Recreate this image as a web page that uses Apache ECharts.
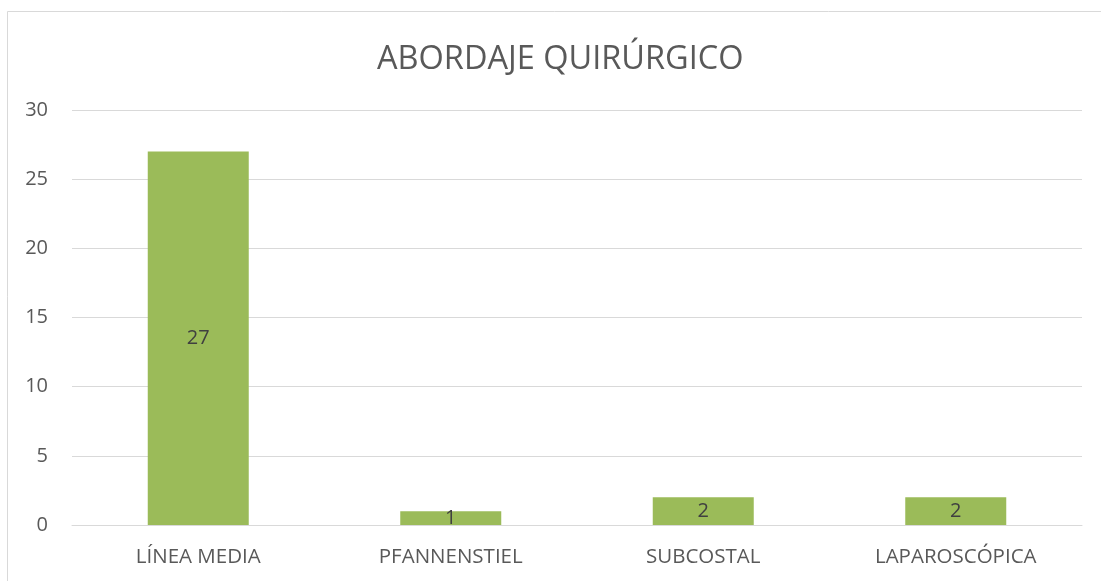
<!DOCTYPE html>
<html>
<head>
<meta charset="utf-8">
<script src="https://cdn.jsdelivr.net/npm/echarts@6/dist/echarts.min.js"></script>
<style>
  html, body { margin: 0; padding: 0; background: #fff; }
  #chart { width: 1101px; height: 581px; }
</style>
</head>
<body>
<div id="chart"></div>
<script>
const categories = ['LÍNEA MEDIA', 'PFANNENSTIEL', 'SUBCOSTAL', 'LAPAROSCÓPICA']
const values = [27, 1, 2, 2]
const yTicks = { min: 0, max: 30, interval: 5 }

const font = '"Open Sans", "Noto Sans", sans-serif'
const chart = echarts.init(document.getElementById('chart'))
chart.setOption({
  animation: false,
  backgroundColor: '#fff',
  graphic: [{
    type: 'rect',
    shape: { x: 7.5, y: 11.5, width: 1200, height: 700 },
    style: { fill: 'none', stroke: '#d9d9d9', lineWidth: 1 },
    silent: true
  }],
  title: {
    text: 'ABORDAJE QUIRÚRGICO',
    left: 372,
    top: 38,
    textStyle: { fontFamily: font, fontSize: 32.5, fontWeight: 'normal', color: '#595959' }
  },
  grid: { left: 72, right: 19, top: 110, bottom: 56, containLabel: false },
  xAxis: {
    type: 'category',
    data: categories,
    axisLine: { lineStyle: { color: '#d9d9d9', width: 1 } },
    axisTick: { show: false },
    axisLabel: { fontFamily: font, fontSize: 20.5, color: '#595959', margin: 22 }
  },
  yAxis: {
    type: 'value',
    min: yTicks.min,
    max: yTicks.max,
    interval: yTicks.interval,
    axisLine: { show: false },
    axisTick: { show: false },
    splitLine: { lineStyle: { color: '#d9d9d9', width: 1 } },
    axisLabel: { fontFamily: font, fontSize: 20, color: '#595959', margin: 24 }
  },
  series: [{
    type: 'bar',
    data: values,
    barWidth: '40%',
    itemStyle: { color: '#9bbb59' },
    label: {
      show: true,
      position: 'inside',
      fontFamily: font,
      fontSize: 20,
      color: '#404040'
    }
  }]
})
</script>
</body>
</html>
